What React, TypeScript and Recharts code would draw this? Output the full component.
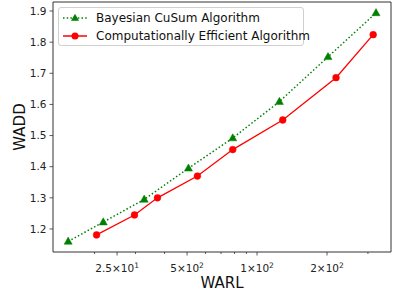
import React from "react";
import { LineChart, Line, XAxis, YAxis, ReferenceArea } from "recharts";

// WARL (x, log scale) and WADD (y)
const bayesX = [15.4, 21.8, 32.7, 50.7, 78.6, 124.8, 202, 325];
const bayesY = [1.16, 1.222, 1.295, 1.395, 1.492, 1.609, 1.753, 1.894];
const effX = [20.4, 29.7, 37.3, 55.4, 78.6, 129, 218.7, 316];
const effY = [1.181, 1.245, 1.3, 1.37, 1.455, 1.55, 1.686, 1.824];

const yTicks = [1.2, 1.3, 1.4, 1.5, 1.6, 1.7, 1.8, 1.9];
const xMajorTicks = [25, 50, 100, 200];
const xMajorLabels = [
  ["2.5×10", "1"],
  ["5×10", "2"],
  ["1×10", "2"],
  ["2×10", "2"],
];
const xMinorTicks = [20, 30, 40, 60, 70, 80, 90, 300];

const X_DOMAIN = [13.25, 377];
const Y_DOMAIN = [1.126, 1.929];

const bayesData = bayesX.map((x, i) => ({ x, y: bayesY[i] }));
const effData = effX.map((x, i) => ({ x, y: effY[i] }));

const FONT = "DejaVu Sans, sans-serif";
const GREEN = "#008000";
const RED = "#ff0000";

const Triangle = (props: any) => {
  const { cx, cy } = props;
  if (cx == null || cy == null) return null;
  return (
    <polygon
      key={`t-${cx}-${cy}`}
      points={`${cx},${cy - 4.3} ${cx - 4},${cy + 2.8} ${cx + 4},${cy + 2.8}`}
      fill={GREEN}
      stroke={GREEN}
      strokeWidth={0.5}
    />
  );
};

const XTick = (props: any) => {
  const { x, y, payload } = props;
  const idx = xMajorTicks.indexOf(payload.value);
  const major = idx >= 0;
  return (
    <g>
      <line x1={x} x2={x} y1={y} y2={y + (major ? 3.5 : 2)} stroke="#333" strokeWidth={0.8} />
      {major && (
        <text x={x} y={y + 20} textAnchor="middle" fontSize={10.5} fontFamily={FONT} fill="#222">
          <tspan>{xMajorLabels[idx][0]}</tspan>
          <tspan dy={-4.5} fontSize={7.5}>{xMajorLabels[idx][1]}</tspan>
        </text>
      )}
    </g>
  );
};

function LegendBox() {
  const rows = [
    { label: "Bayesian CuSum Algorithm", color: GREEN, dash: "1.5 2.2", tri: true },
    { label: "Computationally Efficient Algorithm", color: RED, dash: undefined, tri: false },
  ];
  return (
    <div
      style={{
        position: "absolute",
        left: 58,
        top: 7,
        width: 246,
        height: 39,
        border: "1px solid #d0d0d0",
        borderRadius: 3,
        background: "rgba(255,255,255,0.8)",
        fontFamily: FONT,
        fontSize: 12,
        color: "#111",
        boxSizing: "border-box",
      }}
    >
      {rows.map((r, i) => (
        <div
          key={r.label}
          style={{ position: "absolute", left: 3, top: 1 + i * 18, height: 17, display: "flex", alignItems: "center" }}
        >
          <svg width={26} height={16}>
            <line x1={1} x2={25} y1={8} y2={8} stroke={r.color} strokeWidth={1.5} strokeDasharray={r.dash} />
            {r.tri ? (
              <polygon points="13,3.7 9,10.8 17,10.8" fill={r.color} />
            ) : (
              <circle cx={13} cy={8} r={3.5} fill={r.color} />
            )}
          </svg>
          <span style={{ marginLeft: 8, whiteSpace: "nowrap" }}>{r.label}</span>
        </div>
      ))}
    </div>
  );
}

export default function App() {
  return (
    <div style={{ position: "absolute", left: 0, top: 0, width: 405, height: 291, background: "#fff" }}>
      <LineChart width={405} height={291} margin={{ top: 2, right: 14, bottom: 0, left: 0 }}>
        <XAxis
          type="number"
          dataKey="x"
          scale="log"
          domain={X_DOMAIN}
          allowDataOverflow
          ticks={[...xMajorTicks, ...xMinorTicks].sort((a, b) => a - b)}
          interval={0}
          tick={<XTick />}
          tickLine={false}
          axisLine={false}
          tickSize={0}
          tickMargin={0}
          height={39}
        />
        <YAxis
          type="number"
          dataKey="y"
          domain={Y_DOMAIN}
          allowDataOverflow
          ticks={yTicks}
          interval={0}
          width={53}
          axisLine={false}
          tickSize={3.5}
          tickMargin={3}
          tickLine={{ stroke: "#333", strokeWidth: 0.8 }}
          tick={{ fontSize: 10.5, fontFamily: FONT, fill: "#222" }}
          tickFormatter={(v: number) => v.toFixed(1)}
        />
        <ReferenceArea
          x1={X_DOMAIN[0]}
          x2={X_DOMAIN[1]}
          y1={Y_DOMAIN[0]}
          y2={Y_DOMAIN[1]}
          fill="none"
          stroke="#333"
          strokeWidth={1}
          ifOverflow="visible"
        />
        <Line
          data={bayesData}
          dataKey="y"
          stroke={GREEN}
          strokeWidth={1.5}
          strokeDasharray="1.5 2.2"
          dot={<Triangle />}
          activeDot={false}
          isAnimationActive={false}
        />
        <Line
          data={effData}
          dataKey="y"
          stroke={RED}
          strokeWidth={1.3}
          dot={{ r: 3.4, fill: RED, stroke: RED, strokeWidth: 0.5 }}
          activeDot={false}
          isAnimationActive={false}
        />
        <text x={222} y={288} textAnchor="middle" fontSize={15} fontFamily={FONT} fill="#111">
          WARL
        </text>
        <text
          x={25}
          y={127}
          textAnchor="middle"
          fontSize={15}
          fontFamily={FONT}
          fill="#111"
          transform="rotate(-90 25 127)"
        >
          WADD
        </text>
      </LineChart>
      <LegendBox />
    </div>
  );
}
